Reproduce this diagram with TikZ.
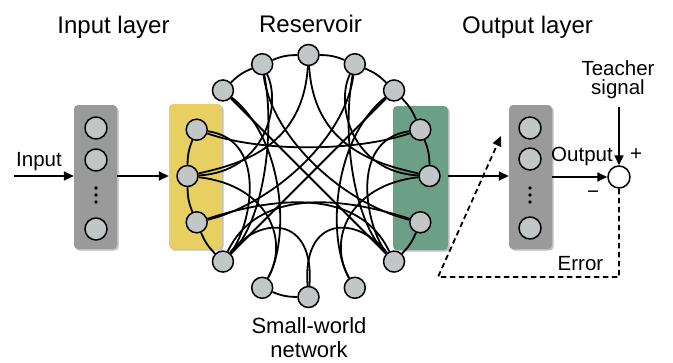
\documentclass[tikz,border=0pt]{standalone}
\usepackage{fontspec}
\setmainfont{Liberation Sans}
\usetikzlibrary{arrows.meta,shadows}
\definecolor{nodegray}{HTML}{C3C6C6}
\definecolor{boxgray}{HTML}{9A9A9A}
\definecolor{boxyellow}{HTML}{E8CF62}
\definecolor{boxgreen}{HTML}{6C9F88}
\pgfdeclarelayer{bg}
\pgfdeclarelayer{mid}
\pgfsetlayers{bg,mid,main}
\tikzset{
  rn/.style={circle,draw=black,line width=1.5pt,fill=nodegray,minimum size=21pt,inner sep=0pt},
  ln/.style={circle,draw=black,line width=1.5pt,fill=nodegray,minimum size=22pt,inner sep=0pt},
  sumnode/.style={circle,draw=black,line width=1.5pt,fill=white,minimum size=22pt,inner sep=0pt},
  dotn/.style={circle,fill=black,minimum size=3.6pt,inner sep=0pt},
  layerbox/.style={rounded corners=4pt,drop shadow={shadow xshift=1.6pt,shadow yshift=-1.6pt,opacity=0.35,fill=black!70}},
  wire/.style={line width=1.8pt,black},
  arr/.style={line width=1.8pt,-{Triangle[length=10pt,width=9pt]}},
  dasharr/.style={line width=1.8pt,dash pattern=on 5.5pt off 3.5pt,-{Triangle[length=10pt,width=9pt]}},
  title/.style={font=\fontsize{24}{26}\selectfont,anchor=base,inner sep=0pt},
  subtitle/.style={font=\fontsize{22}{24}\selectfont,anchor=base,inner sep=0pt},
  lbl/.style={font=\fontsize{20.5}{18.5}\selectfont,anchor=base,inner sep=0pt},
}
\begin{document}
\begin{tikzpicture}[x=1pt,y=-1pt]
\useasboundingbox (0,0) rectangle (673,362);
% layer boxes
\begin{pgfonlayer}{bg}
\node[layerbox,fill=boxgray,minimum width=43pt,minimum height=144pt,inner sep=0pt] (inbox) at (95.5,177) {};
\node[layerbox,fill=boxyellow,minimum width=53pt,minimum height=145pt,inner sep=0pt] (ybox) at (195.5,176.5) {};
\node[layerbox,fill=boxgreen,minimum width=55pt,minimum height=144pt,inner sep=0pt] (gbox) at (420.5,178) {};
\node[layerbox,fill=boxgray,minimum width=43pt,minimum height=144pt,inner sep=0pt] (outbox) at (530.5,177) {};
\end{pgfonlayer}
% reservoir nodes
\foreach \k in {0,...,15}{
  \node[rn] (N\k) at ({308.5+121*cos(90-22.5*\k)},{176-121*sin(90-22.5*\k)}) {};
}
% ring and chords
\begin{pgfonlayer}{mid}
\foreach \a/\b in {14/15,15/0,0/1,1/2,2/3,3/4,5/6,8/9,10/11,11/12,12/13}{
  \draw[wire] (N\a) to[bend left=11] (N\b);
}
\draw[wire] (N13) .. controls (260,152) and (355,152) .. (N3);
\draw[wire] (N12) .. controls (265,172) and (282,105) .. (N15);
\draw[wire] (N4) .. controls (352,172) and (335,105) .. (N1);
\draw[wire] (N11) .. controls (280,195) and (360,190) .. (N6);
\draw[wire] (N5) .. controls (337,195) and (257,190) .. (N10);
\draw[wire] (N12) .. controls (268,185) and (290,240) .. (N9);
\draw[wire] (N4) .. controls (349,185) and (327,240) .. (N7);
\draw[wire] (N14) -- (N6);
\draw[wire] (N2) -- (N10);
\draw[wire] (N15) .. controls (275,130) and (265,220) .. (N10);
\draw[wire] (N1) .. controls (342,130) and (352,220) .. (N6);
\draw[wire] (N0) .. controls (303,150) and (235,165) .. (N12);
\draw[wire] (N0) .. controls (314,150) and (382,165) .. (N4);
\draw[wire] (N14) .. controls (285,140) and (290,240) .. (N9);
\draw[wire] (N2) .. controls (332,140) and (327,240) .. (N7);
\draw[wire] (N10) .. controls (260,215) and (315,215) .. (N8);
\draw[wire] (N6) .. controls (357,215) and (302,215) .. (N8);
\draw[wire] (N13) .. controls (270,140) and (250,230) .. (N10);
\draw[wire] (N3) .. controls (347,140) and (367,230) .. (N6);
\draw[wire] (N11) .. controls (270,205) and (345,140) .. (N1);
\draw[wire] (N5) .. controls (347,205) and (272,140) .. (N15);
\end{pgfonlayer}
% input layer nodes
\node[ln] (I1) at (96,128) {};
\node[ln] (I2) at (96,160) {};
\node[ln] (I3) at (96,229) {};
\node[dotn] (Id1) at (96,188) {};
\node[dotn] (Id2) at (96,195) {};
\node[dotn] (Id3) at (96,202) {};
% output layer nodes
\node[ln] (O1) at (530,128) {};
\node[ln] (O2) at (530,159) {};
\node[ln] (O3) at (530,228) {};
\node[dotn] (Od1) at (530,188) {};
\node[dotn] (Od2) at (530,195) {};
\node[dotn] (Od3) at (530,202) {};
% summing junction
\node[sumnode] (S) at (619,177) {};
% texts
\node[title] (t1) at (113.5,33) {Input layer};
\node[title] (t2) at (310.5,32.5) {Reservoir};
\node[title] (t3) at (527.5,33) {Output layer};
\node[subtitle] (t4) at (309,333) {Small-world};
\node[subtitle] (t5) at (309,357.5) {network};
\node[lbl,align=center,anchor=north] (tteach) at (618,60.5) {Teacher\\signal};
\node[lbl] (tin) at (39,166.5) {Input};
\node[lbl] (tout) at (582,161.5) {Output};
\node[lbl] (terr) at (580.5,270) {Error};
\node[lbl] (tplus) at (636,160) {+};
\node[lbl] (tminus) at (593,198) {\textminus};
% connectors
\coordinate (inStart) at (14,176);
\coordinate (teachTop) at (619,107);
\coordinate (e1) at (619,277);
\coordinate (e2) at (438,277);
\coordinate (e3) at (501,136);
\draw[arr] (inStart) -- (inbox.west |- inStart);
\draw[arr] (inbox.east |- inStart) -- (ybox.west |- inStart);
\draw[arr] (gbox.east |- inStart) -- (outbox.west |- inStart);
\draw[arr] (outbox.east |- S) -- (S.west);
\draw[arr] (teachTop) -- (S.north);
\draw[dasharr] (S.south) -- (e1) -- (e2) -- (e3);
\end{tikzpicture}
\end{document}
